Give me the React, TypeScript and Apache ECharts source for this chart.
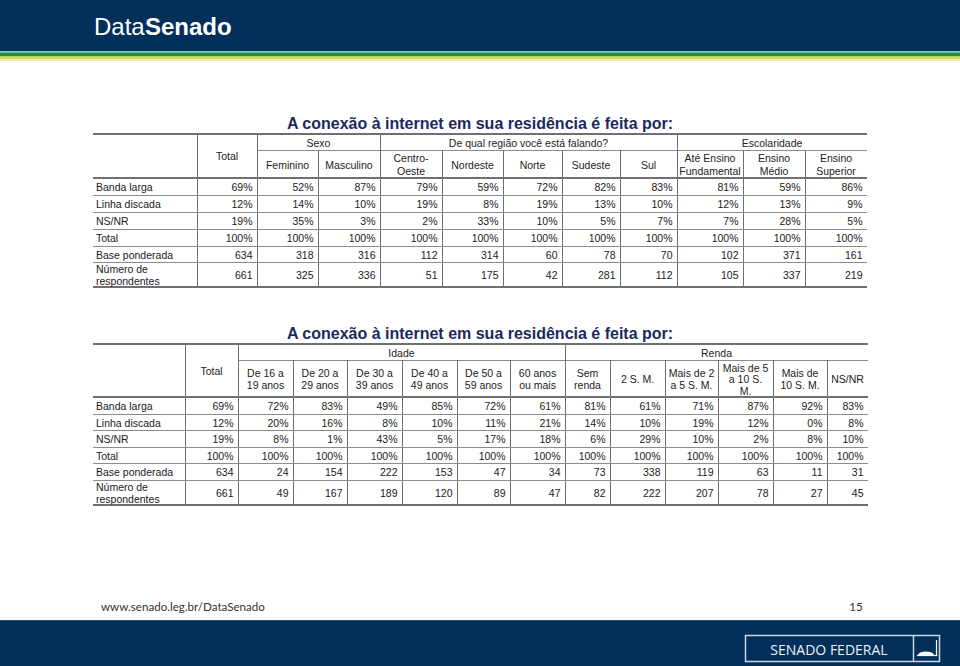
import React, { useEffect, useRef } from "react";
import * as echarts from "echarts";

// ---------- data ----------
const pageTitle = "A conexão à internet em sua residência é feita por:";
const rowLabels = ["Banda larga", "Linha discada", "NS/NR", "Total", "Base ponderada", "Número de\nrespondentes"];
const rowIsPercent = [true, true, true, true, false, false];

// Table 1: Sexo / Região / Escolaridade
const t1Groups = ["Sexo", "De qual região você está falando?", "Escolaridade"];
const t1GroupSpans = [2, 5, 3];
const t1Columns = ["Total", "Feminino", "Masculino", "Centro-\nOeste", "Nordeste", "Norte", "Sudeste", "Sul", "Até Ensino\nFundamental", "Ensino\nMédio", "Ensino\nSuperior"];
const t1BandaLarga = [69, 52, 87, 79, 59, 72, 82, 83, 81, 59, 86];
const t1LinhaDiscada = [12, 14, 10, 19, 8, 19, 13, 10, 12, 13, 9];
const t1NsNr = [19, 35, 3, 2, 33, 10, 5, 7, 7, 28, 5];
const t1Total = [100, 100, 100, 100, 100, 100, 100, 100, 100, 100, 100];
const t1BasePonderada = [634, 318, 316, 112, 314, 60, 78, 70, 102, 371, 161];
const t1Respondentes = [661, 325, 336, 51, 175, 42, 281, 112, 105, 337, 219];

// Table 2: Idade / Renda
const t2Groups = ["Idade", "Renda"];
const t2GroupSpans = [6, 6];
const t2Columns = ["Total", "De 16 a\n19 anos", "De 20 a\n29 anos", "De 30 a\n39 anos", "De 40 a\n49 anos", "De 50 a\n59 anos", "60 anos\nou mais", "Sem\nrenda", "2 S. M.", "Mais de 2\na 5 S. M.", "Mais de 5\na 10 S.\nM.", "Mais de\n10 S. M.", "NS/NR"];
const t2BandaLarga = [69, 72, 83, 49, 85, 72, 61, 81, 61, 71, 87, 92, 83];
const t2LinhaDiscada = [12, 20, 16, 8, 10, 11, 21, 14, 10, 19, 12, 0, 8];
const t2NsNr = [19, 8, 1, 43, 5, 17, 18, 6, 29, 10, 2, 8, 10];
const t2Total = [100, 100, 100, 100, 100, 100, 100, 100, 100, 100, 100, 100, 100];
const t2BasePonderada = [634, 24, 154, 222, 153, 47, 34, 73, 338, 119, 63, 11, 31];
const t2Respondentes = [661, 49, 167, 189, 120, 89, 47, 82, 222, 207, 78, 27, 45];

const headerBrandLight = "Data";
const headerBrandBold = "Senado";
const footerUrl = "www.senado.leg.br/DataSenado";
const footerPage = "15";
const footerLogo = "SENADO FEDERAL";

// ---------- layout ----------
const FONT = "'Liberation Sans', Arial, Helvetica, sans-serif";
const NAVY = "#03305a";
const LINE_DARK = "#707070";
const LINE = "#8c8c8c";

const L1 = {
  xs: [93, 197, 257, 318, 380, 442, 503, 562, 620, 677, 743, 805, 867],
  titleY: 123,
  top: 134,
  groupLine: 150,
  rowLines: [178, 195, 212, 229, 246, 262, 287],
  headLH: 13,
};
const L2 = {
  xs: [93, 185, 238, 293, 347, 402, 457, 510, 565, 610, 665, 718, 773, 827, 868],
  titleY: 333,
  top: 344,
  groupLine: 360,
  rowLines: [397, 414, 430, 447, 463, 480, 505],
  headLH: 11.5,
};

type TOpts = { size?: number; weight?: string; fill?: string; align?: string; family?: string };

function txt(text: string, x: number, y: number, o: TOpts = {}) {
  const align = o.align || "center";
  return {
    type: "text",
    x,
    y,
    silent: true,
    style: {
      text,
      fill: o.fill || "#1a1a1a",
      fontSize: o.size || 10.5,
      fontWeight: o.weight || "normal",
      fontFamily: o.family || FONT,
      textAlign: align,
      align,
      textVerticalAlign: "middle",
      verticalAlign: "middle",
    },
  };
}

function multi(text: string, x: number, y: number, lh: number, o: TOpts = {}) {
  const parts = text.split("\n");
  const n = parts.length;
  return parts.map((p, i) => txt(p, x, y + (i - (n - 1) / 2) * lh, o));
}

function ln(x1: number, y1: number, x2: number, y2: number, w: number, c: string) {
  return { type: "line", silent: true, shape: { x1, y1, x2, y2 }, style: { stroke: c, lineWidth: w } };
}

function rect(x: number, y: number, width: number, height: number, fill: string) {
  return { type: "rect", silent: true, shape: { x, y, width, height }, style: { fill } };
}

function buildTable(L: any, columns: string[], groups: string[], spans: number[], rows: number[][]) {
  const els: any[] = [];
  const xs: number[] = L.xs;
  const left = xs[0];
  const right = xs[xs.length - 1];
  const headBottom = L.rowLines[0];
  const bottom = L.rowLines[L.rowLines.length - 1];

  els.push(txt(pageTitle, 480, L.titleY, { size: 16, weight: "bold", fill: "#1b2a5c" }));

  // group headers
  let ci = 2;
  const groupStarts: number[] = [];
  groups.forEach((g, gi) => {
    const x1 = xs[ci];
    const x2 = xs[ci + spans[gi]];
    els.push(ln(x1, L.groupLine + 0.5, x2, L.groupLine + 0.5, 1, LINE));
    els.push(txt(g, (x1 + x2) / 2, (L.top + L.groupLine) / 2 + 0.5, { fill: "#222" }));
    groupStarts.push(ci);
    ci += spans[gi];
  });

  // vertical lines
  for (let i = 1; i < xs.length - 1; i++) {
    const full = i === 1 || groupStarts.indexOf(i) >= 0;
    els.push(ln(xs[i] + 0.5, full ? L.top : L.groupLine, xs[i] + 0.5, bottom, 1, LINE_DARK));
  }

  // column headers
  columns.forEach((c, j) => {
    const x1 = xs[j + 1];
    const x2 = xs[j + 2];
    const y = j === 0 ? (L.top + headBottom) / 2 : (L.groupLine + headBottom) / 2 + 0.5;
    els.push(...multi(c, (x1 + x2) / 2, y, L.headLH, { fill: "#222" }));
  });

  // horizontal lines
  els.push(ln(left, L.top, right, L.top, 2, LINE_DARK));
  L.rowLines.forEach((y: number, k: number) => {
    const thick = k === 0 || k === L.rowLines.length - 1;
    els.push(ln(left, thick ? y : y + 0.5, right, thick ? y : y + 0.5, thick ? 2 : 1, thick ? LINE_DARK : LINE));
  });

  // body
  rows.forEach((vals, r) => {
    const cy = (L.rowLines[r] + L.rowLines[r + 1]) / 2 + 0.5;
    els.push(...multi(rowLabels[r], left + 3, cy, 12.5, { align: "left" }));
    vals.forEach((v, j) => {
      els.push(txt(rowIsPercent[r] ? v + "%" : String(v), xs[j + 2] - 4.5, cy, { align: "right" }));
    });
  });
  return els;
}

export default function App() {
  const ref = useRef<HTMLDivElement>(null);
  useEffect(() => {
    if (!ref.current) return;
    const chart = echarts.init(ref.current, null, { renderer: "svg" });

    const els: any[] = [];
    // header band
    els.push(rect(0, 0, 960, 51, NAVY));
    els.push(rect(0, 51, 960, 1.5, "#8cc4b0"));
    els.push(rect(0, 52.5, 960, 4, "#1d8a46"));
    els.push(rect(0, 56.5, 960, 2.5, "#d3dc4c"));
    els.push(rect(0, 59, 960, 2, "#f3f1a6"));
    els.push(txt(headerBrandLight, 94, 26, { size: 24, fill: "#ffffff", align: "left" }));
    els.push(txt(headerBrandBold, 145, 26, { size: 24, weight: "bold", fill: "#ffffff", align: "left" }));

    els.push(
      ...buildTable(L1, t1Columns, t1Groups, t1GroupSpans, [
        t1BandaLarga, t1LinhaDiscada, t1NsNr, t1Total, t1BasePonderada, t1Respondentes,
      ])
    );
    els.push(
      ...buildTable(L2, t2Columns, t2Groups, t2GroupSpans, [
        t2BandaLarga, t2LinhaDiscada, t2NsNr, t2Total, t2BasePonderada, t2Respondentes,
      ])
    );

    // footer
    els.push(txt(footerUrl, 101, 606, { size: 11.6, fill: "#333", align: "left", family: "Lato, 'Open Sans', sans-serif" }));
    els.push(txt(footerPage, 856, 606, { size: 11.6, fill: "#333", align: "center", family: "Lato, 'Open Sans', sans-serif" }));
    els.push(rect(0, 620, 960, 46, NAVY));
    els.push(rect(0, 620, 960, 1, "#2f4f72"));
    els.push({
      type: "rect", silent: true,
      shape: { x: 745.5, y: 635.5, width: 194, height: 26 },
      style: { fill: "none", stroke: "#c9d5e2", lineWidth: 1.5 },
    });
    els.push(ln(913.5, 635.5, 913.5, 661.5, 1.5, "#c9d5e2"));
    els.push(txt(footerLogo, 829, 649, { size: 14, fill: "#eef2f6", family: "'Open Sans', 'Noto Sans', sans-serif" }));
    // small senate dome icon
    els.push({
      type: "sector", silent: true,
      shape: { cx: 926, cy: 655, r0: 0, r: 8, startAngle: Math.PI, endAngle: Math.PI * 2 },
      style: { fill: "#ffffff" },
      scaleY: 0.45, originX: 926, originY: 655,
    });
    els.push(ln(917, 655.5, 937.5, 655.5, 1.2, "#ffffff"));
    els.push(ln(936.5, 640, 936.5, 655.5, 1.2, "#ffffff"));

    chart.setOption({
      animation: false,
      backgroundColor: "#ffffff",
      graphic: { elements: els },
    });
    return () => chart.dispose();
  }, []);

  return (
    <div
      ref={ref}
      style={{ position: "absolute", left: 0, top: 0, width: 960, height: 666, background: "#fff" }}
    />
  );
}
